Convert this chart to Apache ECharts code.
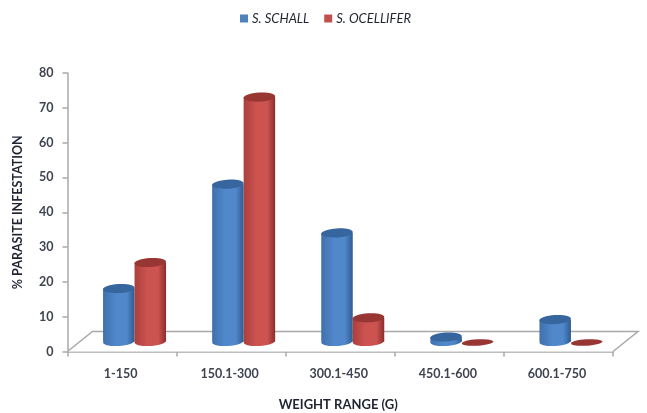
<!DOCTYPE html>
<html>
<head>
<meta charset="utf-8">
<style>
  html, body { margin: 0; padding: 0; background: #fff; }
  #chart { width: 647px; height: 413px; }
</style>
<script src="https://cdn.jsdelivr.net/npm/echarts@6/dist/echarts.min.js"></script>
</head>
<body>
<div id="chart"></div>
<script>
const categories = ['1-150', '150.1-300', '300.1-450', '450.1-600', '600.1-750'];
const schallValues = [15.2, 45.2, 31.2, 1.3, 6.3];
const ocelliferValues = [22.7, 70.2, 6.8, 0, 0];
const yTicks = { min: 0, max: 80, interval: 10 };

const textColor = '#3f4450';
const titleColor = '#1f2430';
const axisColor = '#a8a8a8';
const fontName = 'Lato, "Open Sans", sans-serif';

// fake 3d depth of the floor
const depthX = 25;
const depthY = 20;
const barW = 31.5;
const barRy = 4.5;
const barShift = 12.5;

const blue = { left: '#3f70ab', mid: '#5088cb', right: '#2f5b92', top: '#37659e' };
const red = { left: '#ab3f3c', mid: '#cc5350', right: '#8c2e2c', top: '#983634' };

function cylinderItem(colors, side) {
  return function (params, api) {
    const value = api.value(1);
    const p = api.coord([api.value(0), value]);
    const base = api.coord([api.value(0), 0]);
    const cx = p[0] + barShift + side * barW / 2;
    const topY = p[1] - depthY / 2;
    const baseY = base[1] - depthY / 2;
    const grad = new echarts.graphic.LinearGradient(0, 0, 1, 0, [
      { offset: 0, color: colors.left },
      { offset: 0.4, color: colors.mid },
      { offset: 0.75, color: colors.mid },
      { offset: 1, color: colors.right }
    ]);
    const tilt = 0.06;
    if (value <= 0) {
      return {
        type: 'ellipse',
        x: cx, y: baseY + 1, rotation: tilt,
        shape: { cx: 0, cy: 0, rx: barW / 2, ry: 3.2 },
        style: { fill: colors.top }
      };
    }
    return {
      type: 'group',
      children: [
        {
          type: 'ellipse',
          x: cx, y: baseY, rotation: tilt,
          shape: { cx: 0, cy: 0, rx: barW / 2, ry: barRy },
          style: { fill: grad }
        },
        {
          type: 'rect',
          shape: { x: cx - barW / 2, y: topY, width: barW, height: baseY - topY },
          style: { fill: grad }
        },
        {
          type: 'ellipse',
          x: cx, y: topY, rotation: tilt,
          shape: { cx: 0, cy: 0, rx: barW / 2, ry: barRy },
          style: { fill: colors.top }
        }
      ]
    };
  };
}

function floorItem(params) {
  const c = params.coordSys;
  const bottom = c.y + c.height;
  const right = c.x + c.width;
  return {
    type: 'polyline',
    shape: {
      points: [
        [c.x, bottom],
        [c.x + depthX, bottom - depthY],
        [right + depthX, bottom - depthY],
        [right, bottom]
      ]
    },
    style: { fill: '#fff', stroke: axisColor, lineWidth: 1.5 }
  };
}

const myChart = echarts.init(document.getElementById('chart'), null, { renderer: 'canvas' });
myChart.setOption({
  backgroundColor: '#fff',
  animation: false,
  legend: {
    left: 235,
    top: 7,
    itemWidth: 8,
    itemHeight: 8,
    itemGap: 15,
    icon: 'rect',
    data: ['S. SCHALL', 'S. OCELLIFER'],
    textStyle: { color: titleColor, fontFamily: fontName, fontStyle: 'italic', fontSize: 13, padding: [0, 0, 0, -1] }
  },
  grid: { left: 67.5, right: 34, top: 73, bottom: 61.5, outerBoundsMode: 'none' },
  xAxis: {
    type: 'category',
    data: categories,
    name: 'WEIGHT RANGE (G)',
    nameLocation: 'middle',
    nameGap: 47,
    nameTextStyle: { color: titleColor, fontFamily: fontName, fontWeight: 'bold', fontSize: 13, padding: [0, 4, 0, 0] },
    axisLine: { lineStyle: { color: axisColor, width: 1.5 } },
    axisTick: { show: true, length: 5, lineStyle: { color: axisColor, width: 1.5 } },
    axisLabel: { color: textColor, fontFamily: fontName, fontWeight: 'bold', fontSize: 12.5, margin: 16, padding: [0, 3, 0, 0] }
  },
  yAxis: {
    type: 'value',
    min: yTicks.min,
    max: yTicks.max,
    interval: yTicks.interval,
    name: '% PARASITE INFESTATION',
    nameLocation: 'middle',
    nameGap: 43,
    nameTextStyle: { color: titleColor, fontFamily: fontName, fontWeight: 'bold', fontSize: 12.5 },
    axisLine: { show: true, lineStyle: { color: axisColor, width: 1.5 } },
    axisTick: { show: true, length: 5, lineStyle: { color: axisColor, width: 1.5 } },
    axisLabel: { color: textColor, fontFamily: fontName, fontWeight: 'bold', fontSize: 12.5, margin: 14 },
    splitLine: { show: false }
  },
  series: [
    {
      name: 'floor',
      type: 'custom',
      renderItem: floorItem,
      data: [[0, 0]],
      silent: true,
      z: 1
    },
    {
      name: 'S. SCHALL',
      type: 'custom',
      renderItem: cylinderItem(blue, -1),
      itemStyle: { color: '#4f81bd' },
      data: schallValues.map((v, i) => [i, v]),
      z: 2
    },
    {
      name: 'S. OCELLIFER',
      type: 'custom',
      renderItem: cylinderItem(red, 1),
      itemStyle: { color: '#c0504d' },
      data: ocelliferValues.map((v, i) => [i, v]),
      z: 3
    }
  ]
});
</script>
</body>
</html>
